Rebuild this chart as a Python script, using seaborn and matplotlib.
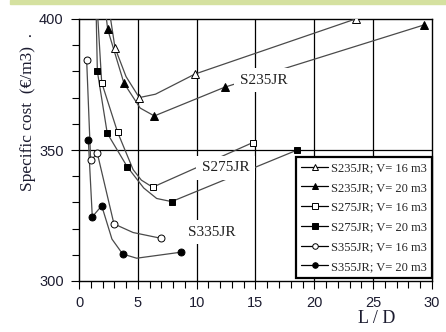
import numpy as np
import pandas as pd
import seaborn as sns
import matplotlib
matplotlib.use('Agg')
import matplotlib.pyplot as plt
from matplotlib.lines import Line2D
from matplotlib.patches import Rectangle

# marked points (L/D, specific cost)
s235_16_x = [3.06, 5.12, 9.86, 23.5]
s235_16_y = [389, 370, 379, 400]
s235_20_x = [2.44, 3.82, 6.4, 12.4, 29.3]
s235_20_y = [396, 375.5, 363, 374, 397.7]
s275_16_x = [1.93, 3.28, 6.26, 14.75]
s275_16_y = [375.7, 356.8, 335.8, 352.8]
s275_20_x = [1.56, 2.4, 4.1, 7.87, 18.55]
s275_20_y = [380, 356.4, 343.6, 330.3, 350]
s355_16_x = [0.65, 0.99, 1.56, 2.97, 6.97]
s355_16_y = [384.4, 346, 348.7, 321.8, 316.3]
s355_20_x = [0.79, 1.13, 1.93, 3.71, 8.67]
s355_20_y = [354, 324.5, 328.7, 310.3, 311]

# extra points along the drawn curves (no marker)
s235_16_tx = [2.55, 4.0, 6.5]
s235_16_ty = [404, 378, 371.3]
s235_20_tx = [2.2, 5.2]
s235_20_ty = [405, 366]
s275_16_tx = [1.55, 4.6, 5.3]
s275_16_ty = [404, 342.5, 338.5]
s275_20_tx = [1.45, 5.5, 6.6]
s275_20_ty = [404, 335.5, 331.5]
s355_16_tx = [4.6]
s355_16_ty = [318.5]
s355_20_tx = [2.8, 4.9]
s355_20_ty = [316, 308.7]

labels = ['S235JR; V= 16 m3', 'S235JR; V= 20 m3', 'S275JR; V= 16 m3',
          'S275JR; V= 20 m3', 'S355JR; V= 16 m3', 'S355JR; V= 20 m3']
curve_names = ['S235JR', 'S275JR', 'S335JR']
curve_name_x = [15.7, 12.45, 11.3]
curve_name_y = [376.7, 343.2, 318.7]

series = [
    (s235_16_x, s235_16_y, s235_16_tx, s235_16_ty, '^', 'white'),
    (s235_20_x, s235_20_y, s235_20_tx, s235_20_ty, '^', 'black'),
    (s275_16_x, s275_16_y, s275_16_tx, s275_16_ty, 's', 'white'),
    (s275_20_x, s275_20_y, s275_20_tx, s275_20_ty, 's', 'black'),
    (s355_16_x, s355_16_y, s355_16_tx, s355_16_ty, 'o', 'white'),
    (s355_20_x, s355_20_y, s355_20_tx, s355_20_ty, 'o', 'black'),
]

sns.set_theme(style='ticks')
plt.rcParams['font.family'] = ['Liberation Serif', 'DejaVu Serif']

fig = plt.figure(figsize=(4.46, 3.32), dpi=100)
fig.patches.append(Rectangle((10 / 446, 1 - 4 / 332), 1, 4 / 332,
                             transform=fig.transFigure, color='#d5e1a0', zorder=0))
ax = fig.add_axes([79 / 446, 1 - 281 / 332, 353 / 446, 262 / 332])

line_col = '#4a4a4a'
for xs, ys, txs, tys, mk, fc in series:
    d = pd.DataFrame({'x': list(xs) + list(txs), 'y': list(ys) + list(tys)})
    d = d.sort_values('x')
    sns.lineplot(data=d, x='x', y='y', ax=ax, sort=False, estimator=None,
                 color=line_col, lw=0.9, zorder=3)
    ax.plot(xs, ys, ls='none', marker=mk, ms=5 if mk != '^' else 6,
            mfc=fc, mec='black', mew=0.7, zorder=4)

for nm, tx, ty in zip(curve_names, curve_name_x, curve_name_y):
    ax.text(tx, ty, nm, ha='center', va='center', fontsize=11, color='#222',
            zorder=6, bbox=dict(facecolor='white', edgecolor='none', pad=4))

ax.set_xlim(0, 30)
ax.set_ylim(300, 400)
ax.set_xticks(np.arange(0, 31, 5))
ax.set_xticks(np.arange(0, 31, 1), minor=True)
ax.set_yticks([300, 350, 400])
ax.set_yticks(np.arange(300, 401, 10), minor=True)
for v in range(5, 30, 5):
    ax.axvline(v, color='black', lw=0.9, zorder=2)
ax.axhline(350, color='black', lw=0.9, zorder=2)

for s in ax.spines.values():
    s.set_visible(True)
    s.set_linewidth(1.0)
    s.set_color('black')
ax.tick_params(which='both', direction='out', color='black', width=0.8,
               top=False, right=False)
ax.tick_params(which='major', length=6, labelsize=10.5, labelcolor='#1c1c30', pad=5)
ax.tick_params(which='minor', length=5)
for t in ax.get_xticklabels() + ax.get_yticklabels():
    t.set_family(['Liberation Sans', 'DejaVu Sans'])

ax.set_xlabel('L / D', fontsize=13, color='#1c1c30')
ax.xaxis.set_label_coords(0.844, -0.11)
ax.set_ylabel('Specific cost  (€/m3)  .', fontsize=12.5, color='#1c1c30')
ax.yaxis.set_label_coords(-0.122, 0.645)

handles = [Line2D([], [], color='black', lw=0.9, marker=mk, ms=4, mfc=fc,
                  mec='black', mew=0.7) for _, _, _, _, mk, fc in series]
leg = ax.legend(handles, labels, loc='lower right', bbox_to_anchor=(1.0, 0.012),
                fontsize=9, frameon=True, fancybox=False, handlelength=2.2,
                handletextpad=0.2, labelspacing=0.62, borderpad=0.4,
                borderaxespad=0.0)
leg.get_frame().set_edgecolor('black')
leg.get_frame().set_linewidth(1.6)
leg.get_frame().set_alpha(1)
leg.set_zorder(7)

fig.savefig('out.png', dpi=100)
